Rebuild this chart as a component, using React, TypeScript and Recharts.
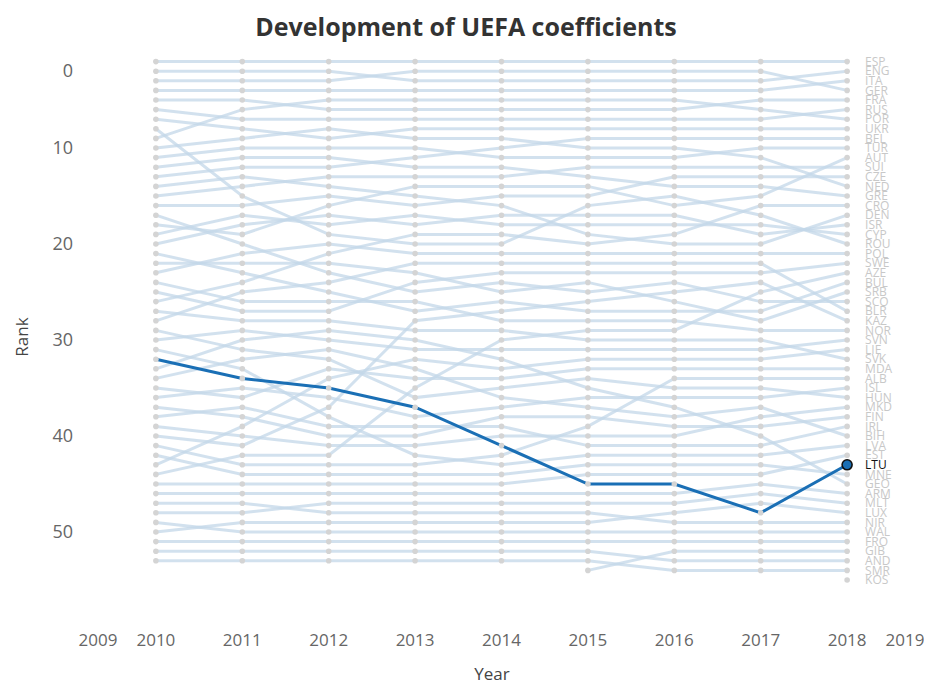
import React from "react";
import { LineChart, Line, XAxis, YAxis } from "recharts";

const years = [2010, 2011, 2012, 2013, 2014, 2015, 2016, 2017, 2018];

const rank2010 = ["ESP","ENG","GER","ITA","FRA","RUS","UKR","ROU","POR","NED","TUR","GRE","BEL","DEN","SUI","CZE","SCO","AUT","CYP","ISR","BUL","SRB","POL","NOR","SWE","CRO","SVK","BLR","HUN","SVN","LVA","LTU","GEO","BIH","MDA","ISL","FIN","IRL","MKD","KAZ","ALB","MNE","LIE","AZE","EST","ARM","NIR","MLT","WAL","LUX","FRO","AND","SMR"];
const rank2011 = ["ESP","ENG","GER","ITA","FRA","POR","RUS","UKR","NED","TUR","GRE","BEL","DEN","SUI","ROU","CZE","CYP","ISR","AUT","SCO","POL","SRB","BUL","CRO","BLR","NOR","SWE","SVK","SVN","GEO","HUN","BIH","LVA","LTU","ISL","MDA","IRL","FIN","LIE","MKD","KAZ","AZE","ALB","MNE","EST","ARM","NIR","MLT","LUX","WAL","FRO","AND","SMR"];
const rank2012 = ["ESP","ENG","GER","ITA","POR","FRA","RUS","NED","UKR","TUR","GRE","BEL","SUI","DEN","CZE","AUT","ISR","CYP","ROU","POL","CRO","SRB","SCO","BLR","BUL","NOR","SWE","SVK","GEO","SVN","BIH","HUN","MDA","LIE","LTU","ISL","KAZ","LVA","IRL","FIN","MKD","AZE","ALB","MNE","EST","ARM","MLT","NIR","LUX","WAL","FRO","AND","SMR"];
const rank2013 = ["ESP","GER","ENG","ITA","POR","FRA","RUS","UKR","NED","TUR","BEL","GRE","SUI","AUT","DEN","CZE","CYP","ISR","CRO","ROU","POL","BLR","SRB","SWE","SCO","NOR","BUL","KAZ","SVK","GEO","SVN","LIE","BIH","MDA","AZE","HUN","LTU","ISL","IRL","FIN","MKD","LVA","ALB","MNE","EST","ARM","MLT","NIR","LUX","WAL","FRO","AND","SMR"];
const rank2014 = ["ESP","GER","ENG","ITA","POR","FRA","RUS","UKR","NED","BEL","TUR","GRE","SUI","AUT","CZE","DEN","ISR","CYP","CRO","ROU","POL","BLR","SWE","SCO","SRB","BUL","KAZ","NOR","SVK","AZE","SVN","GEO","LIE","MDA","HUN","BIH","ISL","FIN","IRL","MKD","LTU","ALB","LVA","MNE","EST","ARM","MLT","NIR","LUX","WAL","FRO","AND","SMR"];
const rank2015 = ["ESP","GER","ENG","ITA","POR","FRA","RUS","UKR","BEL","NED","TUR","SUI","GRE","AUT","CZE","ROU","ISR","CYP","DEN","CRO","POL","BLR","SWE","SRB","SCO","KAZ","BUL","NOR","AZE","SVK","SVN","LIE","MDA","HUN","GEO","ISL","BIH","FIN","ALB","MKD","IRL","LVA","MNE","EST","LTU","ARM","MLT","NIR","LUX","WAL","FRO","AND","SMR","GIB"];
const rank2016 = ["ESP","GER","ENG","ITA","POR","FRA","RUS","UKR","BEL","NED","TUR","SUI","CZE","GRE","ROU","AUT","ISR","CYP","CRO","DEN","POL","BLR","SWE","SCO","KAZ","SRB","BUL","NOR","AZE","SVK","SVN","LIE","MDA","ALB","HUN","ISL","GEO","BIH","FIN","MKD","IRL","LVA","MNE","EST","LTU","ARM","MLT","LUX","NIR","WAL","FRO","GIB","AND","SMR"];
const rank2017 = ["ESP","GER","ENG","ITA","FRA","POR","RUS","UKR","BEL","TUR","NED","SUI","CZE","GRE","AUT","CRO","ROU","CYP","ISR","DEN","POL","BLR","SWE","KAZ","AZE","SCO","BUL","SRB","NOR","SVK","SVN","LIE","MDA","ALB","HUN","ISL","BIH","MKD","FIN","GEO","IRL","LVA","MNE","EST","ARM","MLT","LUX","LTU","NIR","WAL","FRO","GIB","AND","SMR"];
const rank2018 = ["ESP","ENG","ITA","GER","FRA","RUS","POR","UKR","BEL","TUR","AUT","SUI","CZE","NED","GRE","CRO","DEN","ISR","CYP","ROU","POL","SWE","AZE","BUL","SRB","SCO","BLR","KAZ","NOR","SVN","LIE","SVK","MDA","ALB","ISL","HUN","MKD","FIN","IRL","BIH","LVA","EST","LTU","MNE","GEO","ARM","MLT","LUX","NIR","WAL","FRO","GIB","AND","SMR","KOS"];

const rankings = [rank2010, rank2011, rank2012, rank2013, rank2014, rank2015, rank2016, rank2017, rank2018];

const highlight = "LTU";
const xTicks = [2009.33, 2010, 2011, 2012, 2013, 2014, 2015, 2016, 2017, 2018, 2018.67];
const yTicks = [0, 10, 20, 30, 40, 50];

const data = years.map((year, i) => {
  const row: Record<string, number> = { year };
  rankings[i].forEach((c, j) => {
    row[c] = j + 1;
  });
  return row;
});

const lastYear = years[years.length - 1];
const others = rank2018.filter((c) => c !== highlight);

const FONT = "'Open Sans', 'DejaVu Sans', sans-serif";

const makeDot = (country: string, isHi: boolean) => (props: any) => {
  const { cx, cy, payload, value, index } = props;
  const key = `${country}-${index}`;
  if (value == null || cx == null || cy == null) return <g key={key} />;
  const isLast = payload.year === lastYear;
  if (isHi && isLast) {
    return (
      <g key={key}>
        <circle cx={cx} cy={cy} r={5} fill="#1a6fb5" stroke="#111" strokeWidth={1.6} />
        <text x={cx + 18} y={cy} dy="0.35em" fontSize={12} fill="#111" fontFamily={FONT}>
          {country}
        </text>
      </g>
    );
  }
  return (
    <g key={key}>
      <circle cx={cx} cy={cy} r={2.8} fill="#d4d4d4" />
      {isLast ? (
        <text x={cx + 18} y={cy} dy="0.35em" fontSize={12} fill="#c8c8c8" fontFamily={FONT}>
          {country}
        </text>
      ) : null}
    </g>
  );
};

const YTick = (props: any) => {
  const { x, y, payload } = props;
  const yy = payload.value === 0 ? y + 19 : y;
  return (
    <text x={x} y={yy} dy="0.35em" textAnchor="end" fontSize={18} fill="#666" fontFamily={FONT}>
      {payload.value}
    </text>
  );
};

export default function App() {
  return (
    <div style={{ position: "relative", width: 916, height: 679, fontFamily: FONT }}>
      <LineChart
        width={916}
        height={671}
        data={data}
        margin={{ top: 44, right: 19, bottom: 20.6, left: 30 }}
      >
        <XAxis
          dataKey="year"
          type="number"
          domain={[2009.33, 2018.67]}
          ticks={xTicks}
          tickFormatter={(v: number) => String(Math.round(v))}
          axisLine={false}
          tickLine={false}
          tickSize={0}
          tickMargin={16}
          height={40}
          tick={{ fontSize: 17, fill: "#666", fontFamily: FONT }}
          interval={0}
        />
        <YAxis
          type="number"
          reversed
          domain={[0, 59]}
          ticks={yTicks}
          axisLine={false}
          tickLine={false}
          tickSize={0}
          tickMargin={25}
          width={60}
          tick={<YTick />}
          interval={0}
        />
        {others.map((c) => (
          <Line
            key={c}
            dataKey={c}
            type="linear"
            stroke="#c3d7e8"
            strokeOpacity={0.75}
            strokeWidth={3}
            dot={makeDot(c, false)}
            activeDot={false}
            isAnimationActive={false}
          />
        ))}
        <Line
          key={highlight}
          dataKey={highlight}
          type="linear"
          stroke="#1a6fb5"
          strokeWidth={3}
          dot={makeDot(highlight, true)}
          activeDot={false}
          isAnimationActive={false}
        />
      </LineChart>
      <div
        style={{
          position: "absolute",
          top: 3,
          left: 0,
          width: 916,
          textAlign: "center",
          fontSize: 25,
          fontWeight: 700,
          color: "#333",
          lineHeight: "30px",
        }}
      >
        Development of UEFA coefficients
      </div>
      <div
        style={{
          position: "absolute",
          left: 492 - 8 - 50,
          width: 100,
          top: 654,
          textAlign: "center",
          fontSize: 17,
          color: "#444",
          lineHeight: "24px",
        }}
      >
        Year
      </div>
      <div
        style={{
          position: "absolute",
          left: 14 - 50,
          top: 329 - 12,
          width: 100,
          textAlign: "center",
          fontSize: 17,
          color: "#444",
          lineHeight: "24px",
          transform: "rotate(-90deg)",
        }}
      >
        Rank
      </div>
    </div>
  );
}
